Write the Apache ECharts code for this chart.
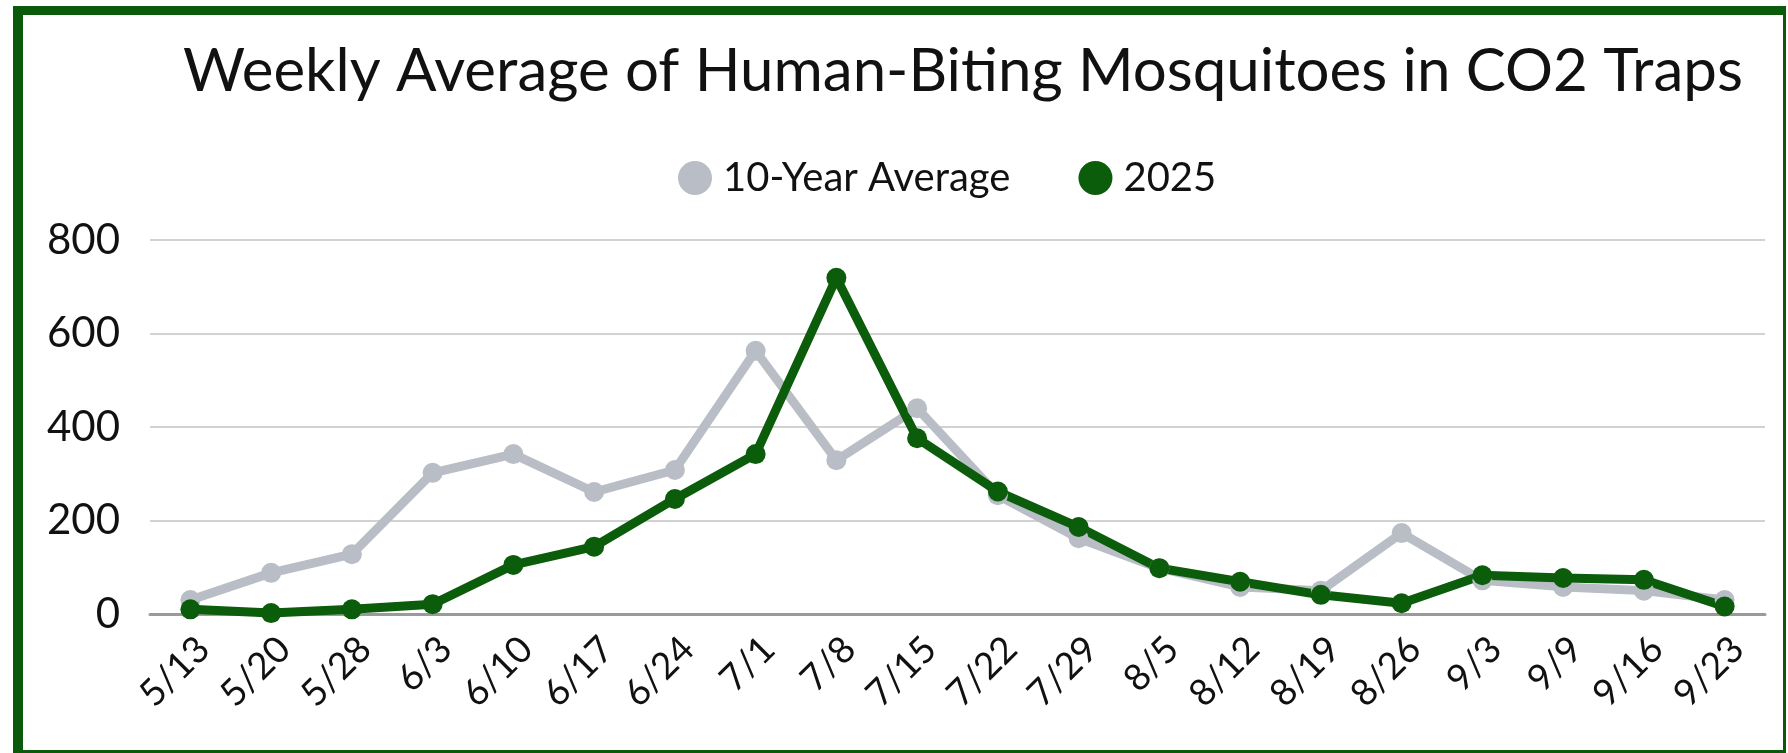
<!DOCTYPE html>
<html>
<head>
<meta charset="utf-8">
<script src="https://cdn.jsdelivr.net/npm/echarts@6/dist/echarts.min.js"></script>
<style>
    html, body { margin: 0; padding: 0; background: #fff; }
    #chart { position: absolute; left: 0; top: 0; width: 1788px; height: 753px; }
    #frame {
        position: absolute; left: 13px; top: 6px; width: 1760px; height: 735px;
        border-style: solid; border-color: #0b5a0b;
        border-width: 9px 3px 3px 10px; pointer-events: none;
    }
</style>
</head>
<body>
<div id="chart"></div>
<div id="frame"></div>
<script>
// 周次标签
const weeks = ['5/13', '5/20', '5/28', '6/3', '6/10', '6/17', '6/24', '7/1', '7/8', '7/15',
    '7/22', '7/29', '8/5', '8/12', '8/19', '8/26', '9/3', '9/9', '9/16', '9/23'];

// 十年平均值
const tenYearAvg = [30, 88, 128, 302, 342, 261, 308, 563, 329, 440,
    254, 162, 98, 58, 50, 173, 72, 58, 50, 30];

// 2025年
const year2025 = [10, 2, 10, 21, 105, 144, 246, 342, 719, 376,
    262, 186, 98, 69, 41, 23, 83, 77, 73, 16];

const yTicks = [0, 200, 400, 600, 800];

const fontFamily = 'Lato, "Open Sans", sans-serif';
const gray = '#b9bdc5';
const green = '#0b5c0b';

const chart = echarts.init(document.getElementById('chart'));

const option = {
    backgroundColor: '#fff',
    animation: false,
    title: {
        text: 'Weekly Average of Human-Biting Mosquitoes in CO2 Traps',
        left: 178,
        top: 37,
        textStyle: {
            fontFamily: fontFamily,
            fontSize: 60,
            fontWeight: 'normal',
            color: '#111'
        }
    },
    legend: {
        left: 673,
        top: 153,
        icon: 'circle',
        itemWidth: 34,
        itemHeight: 34,
        itemGap: 68,
        textStyle: {
            fontFamily: fontFamily,
            fontSize: 40,
            color: '#111',
            padding: [0, 0, 0, 6]
        },
        data: ['10-Year Average', '2025']
    },
    grid: {
        left: 150,
        right: 23,
        top: 240,
        bottom: 139
    },
    xAxis: {
        type: 'category',
        data: weeks,
        boundaryGap: true,
        axisTick: { show: false },
        axisLine: {
            lineStyle: { color: '#9a9a9a', width: 3 }
        },
        axisLabel: {
            rotate: 45,
            margin: 16,
            interval: 0,
            verticalAlign: 'top',
            fontFamily: fontFamily,
            fontSize: 37,
            color: '#111'
        }
    },
    yAxis: {
        type: 'value',
        min: yTicks[0],
        max: yTicks[yTicks.length - 1],
        interval: 200,
        axisLine: { show: false },
        axisTick: { show: false },
        axisLabel: {
            margin: 30,
            fontFamily: fontFamily,
            fontSize: 42,
            color: '#111'
        },
        splitLine: {
            lineStyle: { color: '#d2d2d2', width: 2 }
        }
    },
    series: [
        {
            name: '10-Year Average',
            type: 'line',
            data: tenYearAvg,
            symbol: 'circle',
            symbolSize: 20,
            color: gray,
            lineStyle: { color: gray, width: 9 },
            itemStyle: { color: gray }
        },
        {
            name: '2025',
            type: 'line',
            data: year2025,
            symbol: 'circle',
            symbolSize: 20,
            color: green,
            lineStyle: { color: green, width: 9 },
            itemStyle: { color: green }
        }
    ]
};

chart.setOption(option);

window.addEventListener('resize', function() {
    chart.resize();
});
</script>
</body>
</html>
